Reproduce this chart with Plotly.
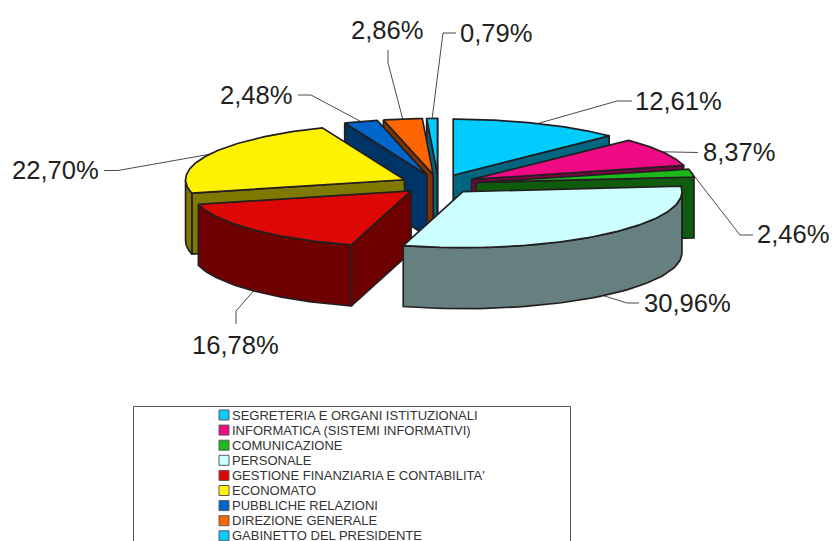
import numpy as np
import plotly.graph_objects as go

categories = ["SEGRETERIA E ORGANI ISTITUZIONALI", "INFORMATICA (SISTEMI INFORMATIVI)",
              "COMUNICAZIONE", "PERSONALE", "GESTIONE FINANZIARIA E CONTABILITA'",
              "ECONOMATO", "PUBBLICHE RELAZIONI", "DIREZIONE GENERALE",
              "GABINETTO DEL PRESIDENTE"]
values = [12.61, 8.37, 2.46, 30.96, 16.78, 22.70, 2.48, 2.86, 0.79]
labels = ["12,61%", "8,37%", "2,46%", "30,96%", "16,78%", "22,70%", "2,48%", "2,86%", "0,79%"]
top_colors = ["#00CCFF", "#F00A84", "#1CB81C", "#CCFFFF", "#DD0806", "#FFF200", "#0066CC", "#FF6600", "#00CCFF"]
side_colors = ["#006680", "#780542", "#0F5C0F", "#668080", "#6E0000", "#807900", "#003366", "#803300", "#006680"]
draw_order = [8, 7, 6, 0, 1, 2, 5, 4, 3]

# pie geometry, in screen pixels
CX, CY, RX, RY, DEPTH, EXPLODE = 438.5, 184.2, 219, 56, 61, 0.174
# label layout: (label x, label y, anchor), then the leader's bend points
label_pos = [(634, 101, "left"), (702, 152, "left"), (756, 234, "left"), (642.5, 303, "left"),
             (235, 345, "center"), (100, 170, "right"), (294, 95, "right"), (425, 30, "right"),
             (459, 33, "left")]
leader_bends = [[(617, 101), (632, 101)], [(698, 152.5)], [(740, 235), (753, 235)],
                [(627, 303), (639, 303)], [(236, 311), (236, 324)], [(118, 170.5), (104, 170.5)],
                [(311, 95), (298, 95)], [(388, 63), (388, 50)], [(443, 33), (456, 33)]]

fig = go.Figure()
OUT = "#231F20"


def poly(xs, ys, color):
    fig.add_trace(go.Scatter(x=list(xs) + [xs[0]], y=list(ys) + [ys[0]], mode="lines", fill="toself",
                             fillcolor=color, line=dict(color=OUT, width=1.7), hoverinfo="skip",
                             showlegend=False))


total = sum(values)
edges = np.concatenate([[0], np.cumsum(values)]) / total * 2 * np.pi


def apex(i):
    m = (edges[i] + edges[i + 1]) / 2
    return CX + EXPLODE * RX * np.sin(m), CY - EXPLODE * RY * np.cos(m)


def rim(i, a):
    ax, ay = apex(i)
    return ax + RX * np.sin(a), ay - RY * np.cos(a)


# leaders go under the pie
for i in range(len(values)):
    m = (edges[i] + edges[i + 1]) / 2
    sx, sy = rim(i, m)
    if np.pi / 2 < m < 3 * np.pi / 2:
        sy += DEPTH
    pts = [(sx, sy)] + leader_bends[i]
    fig.add_trace(go.Scatter(x=[p[0] for p in pts], y=[p[1] for p in pts], mode="lines",
                             line=dict(color="#4A4A4A", width=1), hoverinfo="skip", showlegend=False))

for i in draw_order:
    a0, a1 = edges[i], edges[i + 1]
    ax, ay = apex(i)
    # cut faces
    if np.sin(a0) < 0:
        px, py = rim(i, a0)
        poly([ax, px, px, ax], [ay, py, py + DEPTH, ay + DEPTH], side_colors[i])
    if np.sin(a1) > 0:
        px, py = rim(i, a1)
        poly([ax, px, px, ax], [ay, py, py + DEPTH, ay + DEPTH], side_colors[i])
    # outer wall, front half only
    w0, w1 = max(a0, np.pi / 2), min(a1, 3 * np.pi / 2)
    if w1 > w0:
        t = np.linspace(w0, w1, 60)
        wx, wy = rim(i, t)
        poly(list(wx) + list(wx[::-1]), list(wy) + list(wy[::-1] + DEPTH), side_colors[i])
    # top
    t = np.linspace(a0, a1, 80)
    tx, ty = rim(i, t)
    poly([ax] + list(tx), [ay] + list(ty), top_colors[i])

annotations = []
for text, (x, y, anc) in zip(labels, label_pos):
    annotations.append(dict(x=x, y=y, xref="x", yref="y", text=text, showarrow=False, xanchor=anc,
                            yanchor="middle", align=anc, borderpad=0,
                            font=dict(family="Liberation Sans", size=25.6, color="#231F20")))

# legend
LEG_Y0, LEG_STEP = 415.0, 15.1
leg_y = [LEG_Y0 + k * LEG_STEP for k in range(len(categories))]
fig.add_trace(go.Scatter(x=[224] * len(categories), y=leg_y, mode="markers", hoverinfo="skip", showlegend=False,
                         marker=dict(symbol="square", size=10, color=top_colors,
                                     line=dict(color="#5A5A5A", width=1))))
for name, y in zip(categories, leg_y):
    annotations.append(dict(x=231, y=y, xref="x", yref="y", text=name, showarrow=False, xanchor="left",
                            yanchor="middle", borderpad=0,
                            font=dict(family="Liberation Sans", size=13, color="#333333")))

fig.update_layout(
    width=833, height=541, margin=dict(l=0, r=0, t=0, b=0), autosize=False,
    paper_bgcolor="white", plot_bgcolor="white", hovermode=False,
    xaxis=dict(range=[0, 833], visible=False, fixedrange=True),
    yaxis=dict(range=[541, 0], visible=False, fixedrange=True),
    annotations=annotations,
    shapes=[dict(type="rect", xref="x", yref="y", x0=133.5, x1=570.5, y0=406.5, y1=620,
                 line=dict(color="#555555", width=1), fillcolor="rgba(0,0,0,0)", layer="below")],
)
fig.write_html("out.html", config={"displayModeBar": False},
               post_script="document.body.style.margin='0';document.body.style.overflow='hidden';")
